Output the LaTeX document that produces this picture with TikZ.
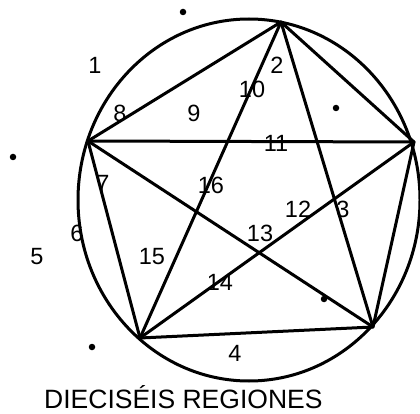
\documentclass[tikz,border=0pt]{standalone}
\usepackage{fontspec}
\setmainfont{Liberation Sans}
\begin{document}
\begin{tikzpicture}[x=1pt,y=-1pt,
  edge/.style={line width=3pt,line cap=round,line join=round},
  lab/.style={font=\fontsize{23.5}{23.5}\selectfont,inner sep=0pt},
  dotmark/.style={circle,fill=black,inner sep=0pt,minimum size=6.5pt}]
\useasboundingbox (0,0) rectangle (420,414);
\draw[edge] (249,200) ellipse [x radius=171, y radius=181];
\coordinate (T) at (281,22);
\coordinate (R) at (414,142);
\coordinate (BR) at (373,327);
\coordinate (BL) at (140,338);
\coordinate (L) at (88,141);
\draw[edge] (T) -- (R) -- (BR) -- (BL) -- (L) -- cycle;
\draw[edge] (L) -- (R);
\draw[edge] (T) -- (BL);
\draw[edge] (T) -- (BR);
\draw[edge] (L) -- (BR);
\draw[edge] (BL) -- (R);
\node[lab] (n1) at (95,65) {1};
\node[lab] (n2) at (277,65) {2};
\node[lab] (n3) at (343,209) {3};
\node[lab] (n4) at (235,353) {4};
\node[lab] (n5) at (37,257) {5};
\node[lab] (n6) at (77,233) {6};
\node[lab] (n7) at (103,183) {7};
\node[lab] (n8) at (120,113) {8};
\node[lab] (n9) at (194,113) {9};
\node[lab] (n10) at (252,89) {10};
\node[lab] (n11) at (276,143) {11};
\node[lab] (n12) at (298,209) {12};
\node[lab] (n13) at (260,233) {13};
\node[lab] (n14) at (220,282) {14};
\node[lab] (n15) at (152,257) {15};
\node[lab] (n16) at (211,185) {16};
\node[dotmark] (d1) at (183,12) {};
\node[dotmark] (d2) at (336,108) {};
\node[dotmark] (d3) at (13,157) {};
\node[dotmark] (d4) at (324,299) {};
\node[dotmark] (d5) at (92,347) {};
\node[font=\fontsize{26.5}{26.5}\selectfont,inner sep=0pt,anchor=base west] (title) at (44,408) {DIECISÉIS REGIONES};
\end{tikzpicture}
\end{document}
